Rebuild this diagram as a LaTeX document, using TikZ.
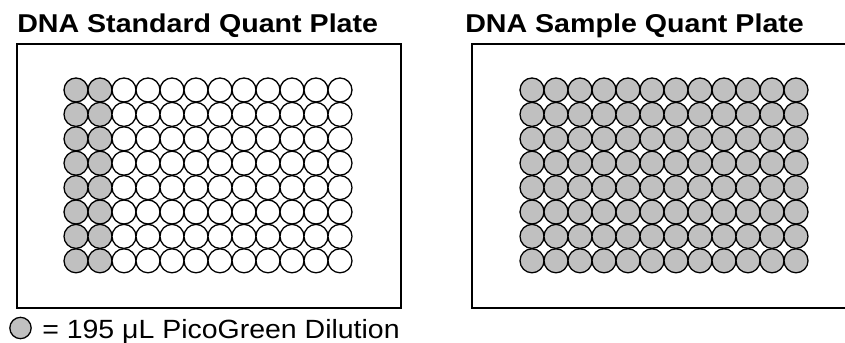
\documentclass[tikz,border=0pt]{standalone}
\usepackage{fontspec}
\setmainfont{Liberation Sans}
\usepackage{tikz}
\usetikzlibrary{positioning}
\definecolor{Well}{HTML}{C0C0C0}
\definecolor{Ink}{HTML}{000000}

\begin{document}
\begin{tikzpicture}[x=0.3mm,y=-0.3mm,
    well/.style={circle,draw=Ink,line width=1.1pt,minimum size=7.2mm,inner sep=0pt},
    plate/.style={draw=Ink,line width=1.5pt},
    title/.style={anchor=base west,inner sep=0pt,xscale=1.11,transform shape,font=\fontsize{22}{26}\selectfont\bfseries}]
        \useasboundingbox (0,0) rectangle (845,343);
        \clip (0,0) rectangle (845,343);
        % plates
        \draw[plate] (17,44) rectangle (401,308);
        \draw[plate] (472,44) rectangle (860,308);
        \node[title] (stdtitle) at (17,33) {DNA Standard Quant Plate};
        \node[title] (smptitle) at (465,33) {DNA Sample Quant Plate};
        % wells, 8 rows x 12 columns
        \foreach \r in {1,...,8}
          \foreach \c in {1,...,12} {
            \ifnum\c<3
              \node[well,fill=Well] (std-\r-\c) at ({76+24*(\c-1)},{90+24.4*(\r-1)}) {};
            \else
              \node[well,fill=white] (std-\r-\c) at ({76+24*(\c-1)},{90+24.4*(\r-1)}) {};
            \fi
            \node[well,fill=Well] (smp-\r-\c) at ({532+24*(\c-1)},{90+24.4*(\r-1)}) {};
          }
        % legend
        \node[well,fill=Well,minimum size=6.4mm] (key) at (20.5,328) {};
        \node[anchor=base west,inner sep=0pt,xscale=1.08,transform shape,font=\fontsize{22.5}{26}\selectfont] (keytext) at (42,338) {= 195 μL PicoGreen Dilution};
      \end{tikzpicture}
\end{document}
